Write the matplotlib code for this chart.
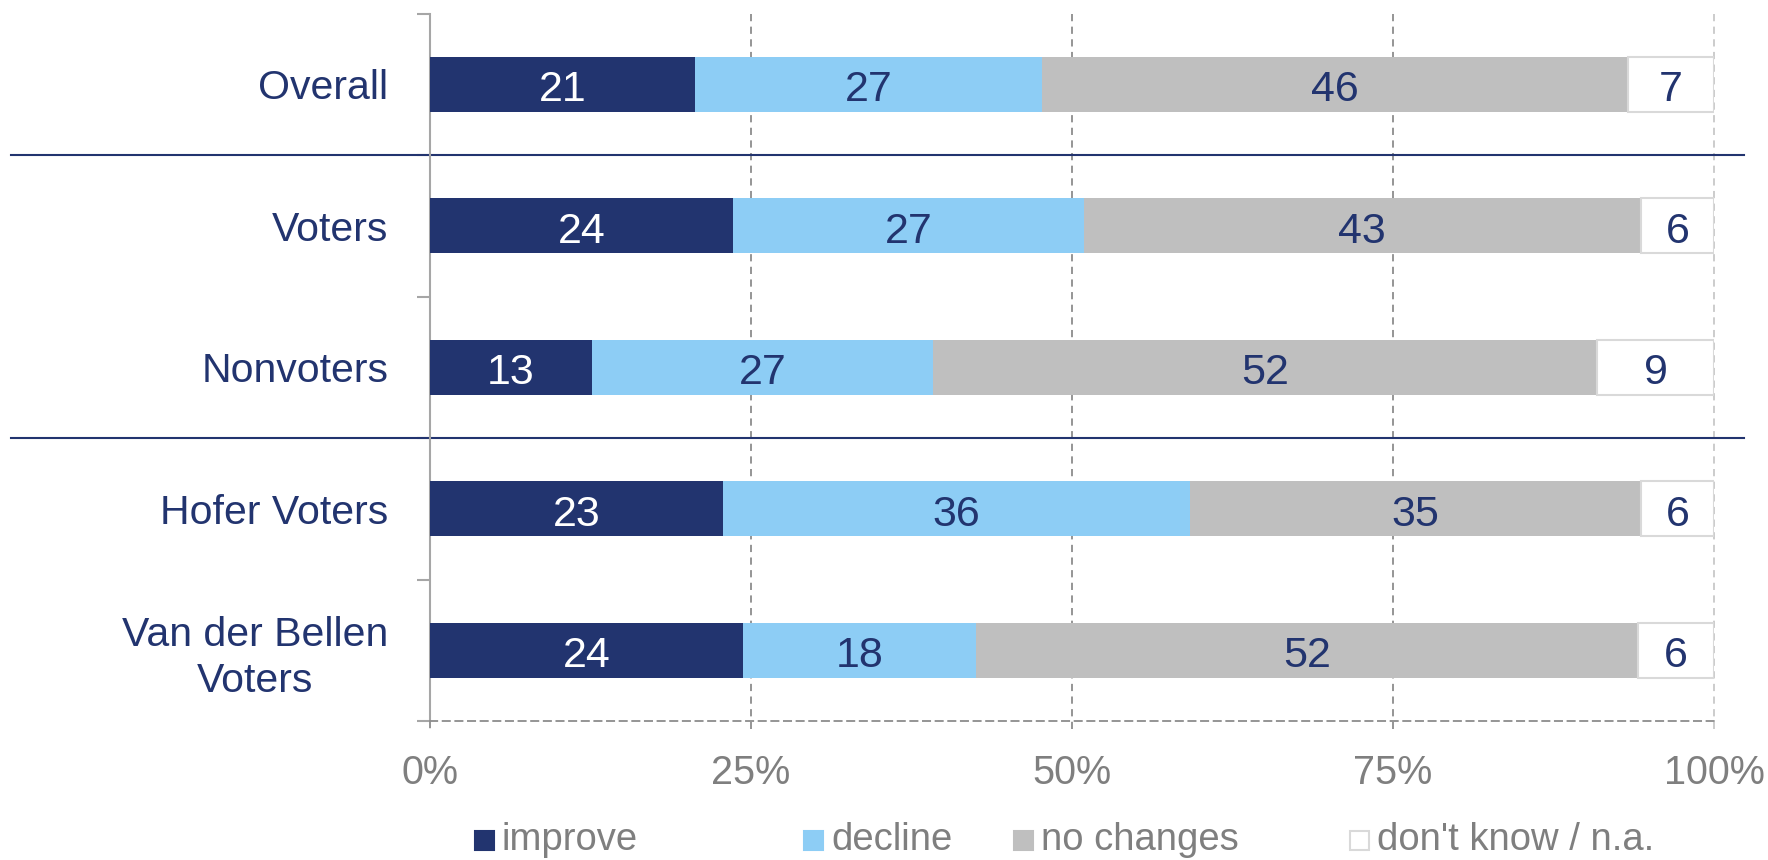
import numpy as np
import matplotlib
matplotlib.use('Agg')
import matplotlib.pyplot as plt
from matplotlib.patches import Rectangle
from matplotlib.lines import Line2D

plt.rcParams['font.family'] = ['Liberation Sans', 'DejaVu Sans']

# Data (percent; labels are the rounded values)
groups = ['Overall', 'Voters', 'Nonvoters', 'Hofer Voters', 'Van der Bellen\nVoters']
series = ['improve', 'decline', 'no changes', "don't know / n.a."]
improve = [20.6, 23.6, 12.6, 22.8, 24.4]
decline = [27.1, 27.3, 26.6, 36.4, 18.1]
no_changes = [45.6, 43.4, 51.7, 35.1, 51.6]
dont_know = [6.7, 5.7, 9.1, 5.7, 5.9]

navy = '#22346F'
colors = [navy, '#8DCDF5', '#BFBFBF', '#FFFFFF']
edges = ['none', 'none', 'none', '#D9D9D9']
label_colors = ['white', navy, navy, navy]
grey_txt = '#7F7F7F'

W, H = 1768, 860
fig = plt.figure(figsize=(W / 100, H / 100), dpi=100)
ax = fig.add_axes([430 / W, 1 - 721 / H, 1284 / W, (721 - 13.5) / H])

vals = np.array([improve, decline, no_changes, dont_know])
y = np.arange(len(groups))

left = np.zeros(len(groups))
for i in range(len(series)):
    ax.barh(y, vals[i], left=left, height=0.39, color=colors[i],
            edgecolor=edges[i], linewidth=1.5 if edges[i] != 'none' else 0,
            zorder=3)
    for j in range(len(groups)):
        ax.text(left[j] + vals[i][j] / 2, y[j] + 0.01, f'{vals[i][j]:.0f}',
                ha='center', va='center_baseline', fontsize=31,
                color=label_colors[i], zorder=4)
    left += vals[i]

ax.set_xlim(0, 100)
ax.set_ylim(len(groups) - 0.5, -0.5)

# grid lines
for gx in [25, 50, 75]:
    ax.add_line(Line2D([gx, gx], [-0.5, 4.58], color='#8C8C8C', lw=1.3,
                       ls=(0, (4, 3)), zorder=1, clip_on=False))
ax.add_line(Line2D([100, 100], [-0.5, 4.58], color='#C8C8C8', lw=1.3,
                   ls=(0, (4, 3)), zorder=1, clip_on=False))
ax.add_line(Line2D([0, 0], [4.5, 4.58], color='#8C8C8C', lw=1.3,
                   ls=(0, (4, 3)), zorder=1, clip_on=False))

# separators
for sy in [0.5, 2.5]:
    ax.add_line(Line2D([-32.6, 102.3], [sy, sy], color=navy, lw=1.5,
                       zorder=2, clip_on=False))

for s in ['top', 'right']:
    ax.spines[s].set_visible(False)
ax.spines['left'].set_color('#A6A6A6')
ax.spines['left'].set_linewidth(1.5)
ax.spines['bottom'].set_color('#8C8C8C')
ax.spines['bottom'].set_linewidth(1.3)
ax.spines['bottom'].set_linestyle((0, (4, 3)))

ax.set_yticks(y)
ax.set_yticklabels(groups, fontsize=29.5, color=navy)
for t in ax.get_yticklabels():
    t.set_multialignment('center')
    t.set_linespacing(1.25)
ax.tick_params(axis='y', length=0, pad=30)
ax.set_yticks(np.arange(-0.5, len(groups)), minor=True)
ax.tick_params(axis='y', which='minor', length=9.5, width=1.5, color='#A6A6A6')

ax.set_xticks([0, 25, 50, 75, 100])
ax.set_xticklabels(['0%', '25%', '50%', '75%', '100%'], fontsize=28.5, color=grey_txt)
ax.tick_params(axis='x', length=0, pad=24)

# legend
leg_x = [475, 804, 1014, 1350]
for i, name in enumerate(series):
    fig.patches.append(Rectangle((leg_x[i] / W, 1 - 850 / H), 19 / W, 19 / H,
                                 transform=fig.transFigure, facecolor=colors[i],
                                 edgecolor=edges[i] if edges[i] != 'none' else colors[i],
                                 linewidth=1.5))
    fig.text((leg_x[i] + 27) / W, 1 - 840 / H, name, fontsize=27.5,
             color=grey_txt, ha='left', va='center')

fig.savefig('out.png', dpi=100)
